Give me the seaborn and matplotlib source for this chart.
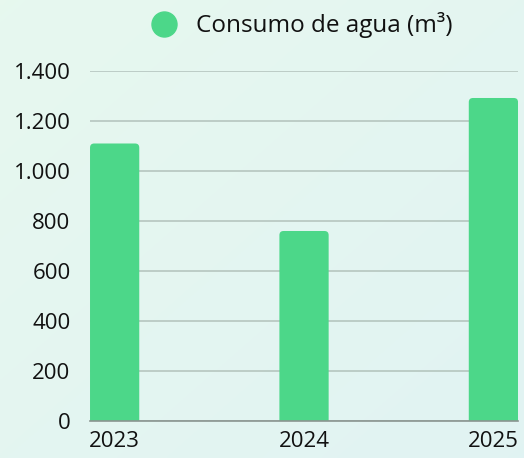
import numpy as np
import pandas as pd
import matplotlib
matplotlib.use("Agg")
import matplotlib.pyplot as plt
from matplotlib.patches import FancyBboxPatch
from matplotlib.ticker import FuncFormatter
from matplotlib.lines import Line2D
import seaborn as sns

years = ["2023", "2024", "2025"]
consumo = [1110, 760, 1292]
yticks = [0, 200, 400, 600, 800, 1000, 1200, 1400]
serie = "Consumo de agua (m³)"

sns.set_theme(style="white")
plt.rcParams["font.family"] = ["Open Sans", "DejaVu Sans"]
plt.rcParams["text.color"] = "#111111"

bar_color = "#4cd789"
df = pd.DataFrame({"year": years, "value": consumo})

fig = plt.figure(figsize=(5.24, 4.58), dpi=100)

# soft gradient background
bg = fig.add_axes([0, 0, 1, 1], zorder=-10)
gx, gy = np.meshgrid(np.linspace(0, 1, 200), np.linspace(0, 1, 200))
t = (gx + gy) / 2
c1 = np.array([0.906, 0.973, 0.937])
c2 = np.array([0.882, 0.953, 0.953])
img = c1[None, None, :] * (1 - t[..., None]) + c2[None, None, :] * t[..., None]
bg.imshow(img, aspect="auto", extent=[0, 1, 0, 1])
bg.axis("off")

ax = fig.add_axes([0.1718, 0.0808, 0.8168, 0.7642])
ax.patch.set_alpha(0)
sns.barplot(data=df, x="year", y="value", color=bar_color, width=0.26,
            saturation=1, ax=ax, zorder=3)

# rounded tops: rebuild bars as rounded boxes from the bar geometry
r = 0.022
aspect = (1400 / 350) / (2.26 / 428)
for p in list(ax.patches):
    x0, w, h = p.get_x(), p.get_width(), p.get_height()
    p.remove()
    box = FancyBboxPatch((x0 + r, -40 + r * aspect), w - 2 * r, h + 40 - 2 * r * aspect,
                         boxstyle=f"round,pad={r}", mutation_aspect=aspect,
                         facecolor=bar_color, edgecolor="none", zorder=3)
    ax.add_patch(box)

ax.set_xlim(-0.13, 2.13)
ax.set_ylim(0, 1400)
ax.set_yticks(yticks)
ax.yaxis.set_major_formatter(FuncFormatter(lambda v, _: f"{int(v):,}".replace(",", ".")))
ax.grid(axis="y", color="#b9c9c3", linewidth=1.3, zorder=0)
ax.set_axisbelow(True)
for s in ["top", "right", "left"]:
    ax.spines[s].set_visible(False)
ax.spines["bottom"].set_color("#8a9490")
ax.spines["bottom"].set_linewidth(1.2)
ax.spines["bottom"].set_zorder(4)
ax.tick_params(axis="y", length=0, pad=14, labelsize=16, labelcolor="#111111")
ax.tick_params(axis="x", length=0, pad=7, labelsize=16, labelcolor="#111111")
ax.set_xlabel("")
ax.set_ylabel("")

handle = Line2D([], [], marker="o", linestyle="none", markersize=18,
                markerfacecolor=bar_color, markeredgecolor=bar_color)
fig.legend([handle], [serie], loc="center", bbox_to_anchor=(0.565, 0.945),
           frameon=False, fontsize=17.5, handletextpad=0.3, borderaxespad=0,
           labelcolor="#111111")

fig.savefig("out.png", dpi=100)
